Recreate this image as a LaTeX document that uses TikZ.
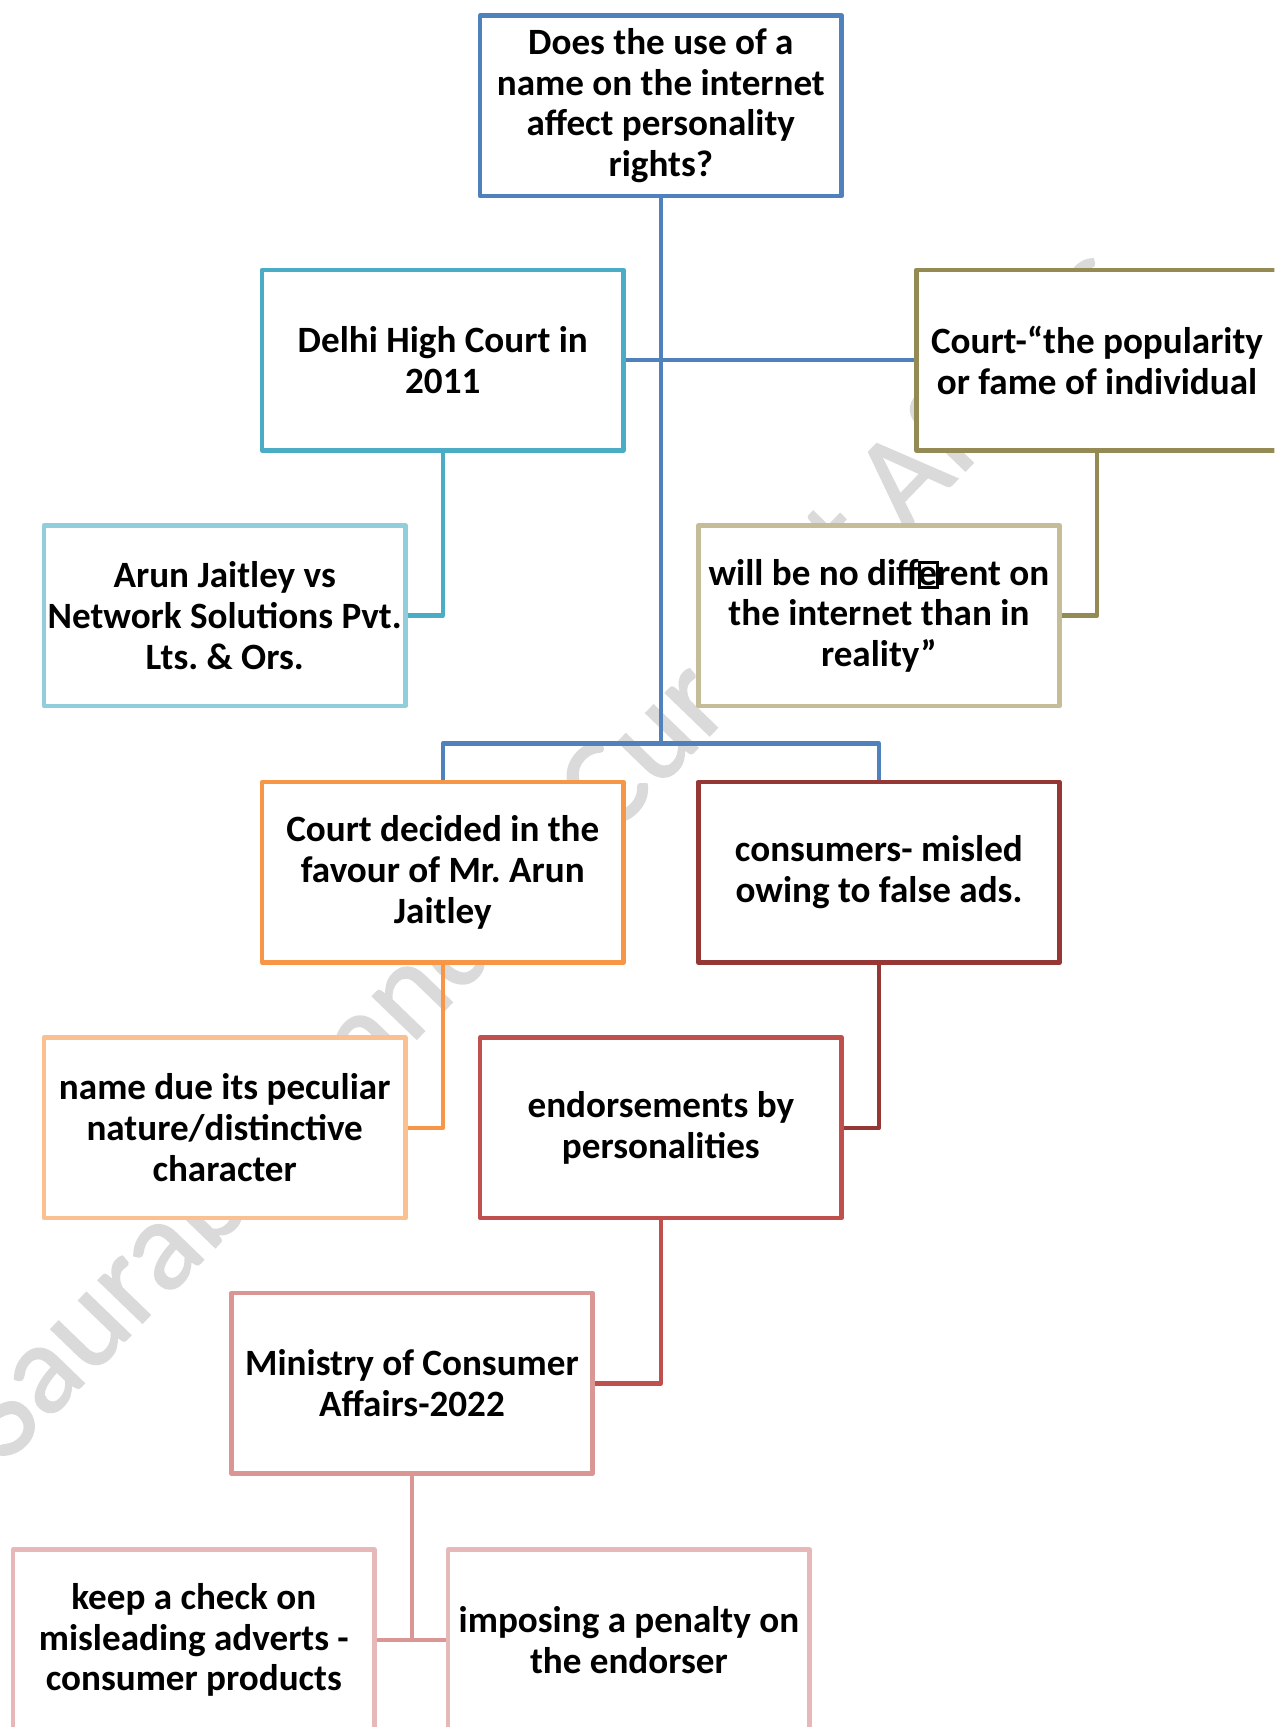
\documentclass[tikz,border=0pt]{standalone}
\usepackage{fontspec}
\setmainfont{Carlito}
\newfontfamily\wmfont{Carlito}[FakeBold=1.2]
\frenchspacing
\definecolor{cblue}{HTML}{4F81BD}
\definecolor{cteal}{HTML}{4BACC6}
\definecolor{colive}{HTML}{948A54}
\definecolor{clblue}{HTML}{92CDDC}
\definecolor{ctan}{HTML}{C4BD97}
\definecolor{corange}{HTML}{F79646}
\definecolor{cdred}{HTML}{953735}
\definecolor{clorange}{HTML}{FAC090}
\definecolor{cred}{HTML}{C0504D}
\definecolor{cpink}{HTML}{D99694}
\definecolor{clpink}{HTML}{E6B9B8}
\definecolor{wmgray}{HTML}{DADADA}
\newcommand\missglyph{\rlap{\raisebox{-0.03em}{\fboxsep=0pt\fboxrule=0.07em\fbox{\rule{0pt}{0.6em}\hspace{0.4em}}}}e}
\begin{document}
\begin{tikzpicture}[x=0.5pt,y=-0.5pt,
  box/.style={draw, line width=2pt, fill=white, minimum width=164pt, minimum height=82pt,
    inner sep=0pt, align=center, line join=round,
    font=\bfseries\fontsize{16.85}{18.5}\selectfont},
  link/.style={line width=2pt, line join=round}]
\useasboundingbox (0,0) rectangle (1157,1568);
\clip (0,0) rectangle (1157,1568);
% watermark
\node[rotate=46, anchor=base west, text=wmgray, inner sep=0pt,
  font=\wmfont\fontsize{58.5}{60}\selectfont] (wm) at (5,1330) {Saurabh Pandey Current Affairs};
% boxes
\node[box, draw=cblue] (top) at (600,96) {Does the use of a\\name on the internet\\affect personality\\rights?};
\node[box, draw=cteal] (delhi) at (402,327) {Delhi High Court in\\2011};
\node[box, draw=colive] (courtpop) at (996,327) {Court-“the popularity\\or fame of individual};
\node[box, draw=clblue] (arun) at (204,559) {Arun Jaitley vs\\Network Solutions Pvt.\\Lts. \& Ors.};
\node[box, draw=ctan] (willbe) at (798,559) {will be no diff\missglyph rent on\\the internet than in\\reality”};
\node[box, draw=corange] (courtdec) at (402,792) {Court decided in the\\favour of Mr. Arun\\Jaitley};
\node[box, draw=cdred] (consumers) at (798,792) {consumers- misled\\owing to false ads.};
\node[box, draw=clorange] (namedue) at (204,1024) {name due its peculiar\\nature/distinctive\\character};
\node[box, draw=cred] (endorse) at (600,1024) {endorsements by\\personalities};
\node[box, draw=cpink] (ministry) at (374,1256) {Ministry of Consumer\\Affairs-2022};
\node[box, draw=clpink] (keep) at (176,1489) {keep a check on\\misleading adverts -\\consumer products};
\node[box, draw=clpink] (imposing) at (571,1489) {imposing a penalty on\\the endorser};
\coordinate (hub) at (600,675);
% connectors
\draw[link, cblue] (top.south) -- (hub);
\draw[link, cblue] (courtdec.north) |- (hub) -| (consumers.north);
\draw[link, cblue] (delhi.east) -- (courtpop.west);
\draw[link, cteal] (delhi.south) |- (arun.east);
\draw[link, colive] (courtpop.south) |- (willbe.east);
\draw[link, corange] (courtdec.south) |- (namedue.east);
\draw[link, cdred] (consumers.south) |- (endorse.east);
\draw[link, cred] (endorse.south) |- (ministry.east);
\draw[link, cpink] (ministry.south) |- (keep.east);
\draw[link, cpink] (keep.east) -- (imposing.west);
\end{tikzpicture}
\end{document}
